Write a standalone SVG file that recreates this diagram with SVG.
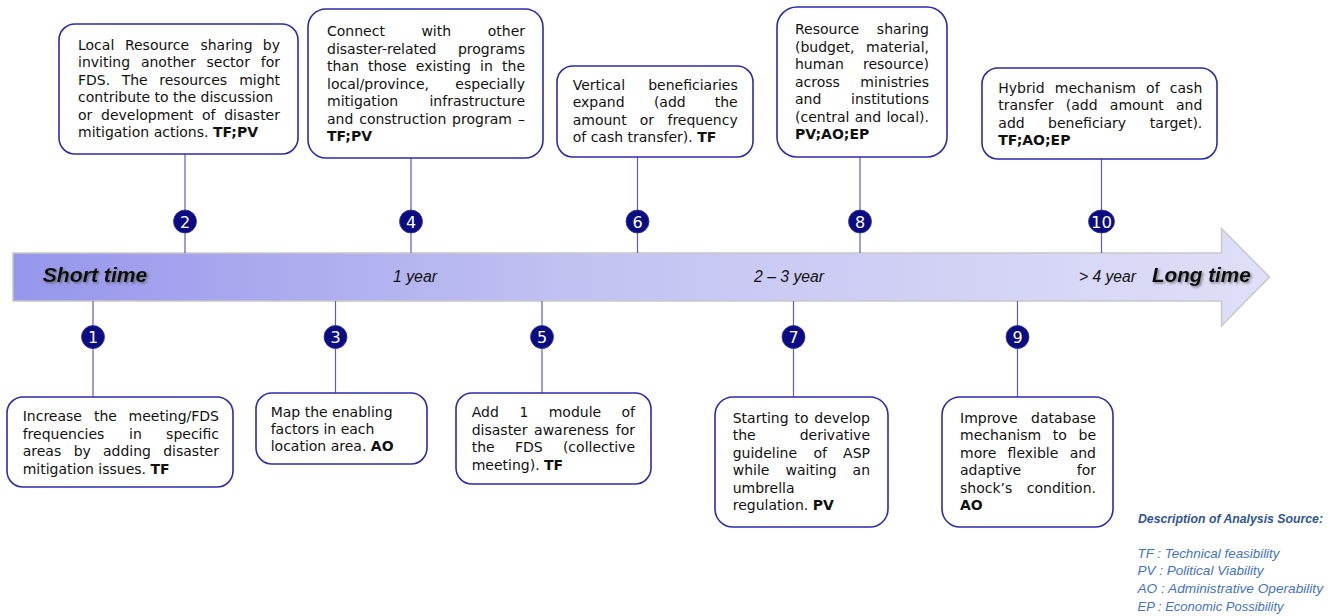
<svg xmlns="http://www.w3.org/2000/svg" width="1337" height="616" viewBox="0 0 1337 616">
  <style>
    .box { fill: #ffffff; stroke: #2b2bab; stroke-width: 1.6; }
    .t { font-family: "DejaVu Sans", sans-serif; font-size: 14px; fill: #111111; }
    .b { font-weight: bold; }
    .link { stroke: #5c5cc8; stroke-width: 1.2; fill: none; }
    .dot { fill: #0b0b82; stroke: #3a3aa0; stroke-width: 0.8; }
    .num { font-family: "DejaVu Sans", sans-serif; font-size: 16px; fill: #ffffff; text-anchor: middle; }
    .tl { font-family: "Liberation Sans", Arial, sans-serif; font-style: italic; fill: #111111; }
    .big { font-size: 21px; font-weight: bold; }
    .small { font-size: 16px; }
    .legend { font-family: "Liberation Sans", Arial, sans-serif; font-style: italic; font-size: 13px; fill: #4472c4; }
    .legend-title { font-weight: bold; fill: #2f5597; }
  </style>
  <defs>
    <linearGradient id="band" x1="12" y1="0" x2="1270" y2="0" gradientUnits="userSpaceOnUse">
      <stop offset="0" stop-color="#9696ec"/>
      <stop offset="0.45" stop-color="#c2c2f2"/>
      <stop offset="1" stop-color="#dfdff8"/>
    </linearGradient>
    <filter id="shadow" x="-10%" y="-30%" width="130%" height="170%">
      <feDropShadow dx="1.5" dy="1.5" stdDeviation="1" flood-color="#555555" flood-opacity="0.7"/>
    </filter>
  </defs>

  <!-- timeline arrow -->
  <g id="timeline">
    <path d="M13,253 H1221.5 V228.5 L1269.5,277 L1221.5,326 V301 H13 Z" fill="url(#band)" stroke="#c8c8c8" stroke-width="1.5"/>
    <text class="tl big" x="42.7" y="282" textLength="104.7" lengthAdjust="spacingAndGlyphs" filter="url(#shadow)">Short time</text>
    <text class="tl small" x="393" y="282" textLength="44" lengthAdjust="spacingAndGlyphs">1 year</text>
    <text class="tl small" x="754" y="282" textLength="70" lengthAdjust="spacingAndGlyphs">2 – 3 year</text>
    <text class="tl small" x="1079" y="282" textLength="57" lengthAdjust="spacingAndGlyphs">&gt; 4 year</text>
    <text class="tl big" x="1152" y="282" textLength="98.7" lengthAdjust="spacingAndGlyphs" filter="url(#shadow)">Long time</text>
  </g>

  <!-- connectors from the steps to the timeline -->
  <g id="connectors">
    <line class="link" x1="185" y1="154" x2="185" y2="253"/>
    <line class="link" x1="411" y1="158" x2="411" y2="253"/>
    <line class="link" x1="637.5" y1="157" x2="637.5" y2="253"/>
    <line class="link" x1="860" y1="157" x2="860" y2="253"/>
    <line class="link" x1="1101.5" y1="159" x2="1101.5" y2="253"/>
    <line class="link" x1="93" y1="301" x2="93" y2="397"/>
    <line class="link" x1="335.5" y1="301" x2="335.5" y2="393"/>
    <line class="link" x1="542" y1="301" x2="542" y2="393"/>
    <line class="link" x1="793.5" y1="301" x2="793.5" y2="397"/>
    <line class="link" x1="1017.5" y1="301" x2="1017.5" y2="397"/>
  </g>

  <!-- step 1 -->
  <g id="step1">
    <rect class="box" x="7" y="397" width="226" height="90" rx="16"/>
    <text class="t" y="421"><tspan x="22.7">Increase</tspan><tspan x="93.9">the</tspan><tspan x="219" text-anchor="end">meeting/FDS</tspan></text>
    <text class="t" y="438.5"><tspan x="22.7">frequencies</tspan><tspan x="129">in</tspan><tspan x="219" text-anchor="end">specific</tspan></text>
    <text class="t" y="456"><tspan x="22.7">areas</tspan><tspan x="73.7">by</tspan><tspan x="103">adding</tspan><tspan x="219" text-anchor="end">disaster</tspan></text>
    <text class="t" x="22.7" y="474">mitigation issues. <tspan class="b">TF</tspan></text>
    <circle class="dot" cx="93" cy="337" r="11.5"/>
    <text class="num" x="93" y="343">1</text>
  </g>

  <!-- step 2 -->
  <g id="step2">
    <rect class="box" x="59" y="24" width="239" height="130" rx="16"/>
    <text class="t" y="49.5"><tspan x="78">Local</tspan><tspan x="124.9">Resource</tspan><tspan x="200.4">sharing</tspan><tspan x="280" text-anchor="end">by</tspan></text>
    <text class="t" y="67"><tspan x="78">inviting</tspan><tspan x="140.9">another</tspan><tspan x="206.5">sector</tspan><tspan x="280" text-anchor="end">for</tspan></text>
    <text class="t" y="84.5"><tspan x="78">FDS.</tspan><tspan x="121.7">The</tspan><tspan x="159.3">resources</tspan><tspan x="280" text-anchor="end">might</tspan></text>
    <text class="t" x="78" y="102">contribute to the discussion</text>
    <text class="t" y="119.5"><tspan x="78">or</tspan><tspan x="101">development</tspan><tspan x="202">of</tspan><tspan x="280" text-anchor="end">disaster</tspan></text>
    <text class="t" x="78" y="137">mitigation actions. <tspan class="b">TF;PV</tspan></text>
    <circle class="dot" cx="185" cy="221.5" r="11.5"/>
    <text class="num" x="185" y="227.5">2</text>
  </g>

  <!-- step 3 -->
  <g id="step3">
    <rect class="box" x="256" y="393" width="171" height="71" rx="16"/>
    <text class="t" x="270.7" y="416.5">Map the enabling</text>
    <text class="t" x="270.7" y="434">factors in each</text>
    <text class="t" x="270.7" y="451">location area. <tspan class="b">AO</tspan></text>
    <circle class="dot" cx="335.5" cy="337" r="11.5"/>
    <text class="num" x="335.5" y="343">3</text>
  </g>

  <!-- step 4 -->
  <g id="step4">
    <rect class="box" x="308" y="9" width="235" height="149" rx="18"/>
    <text class="t" y="36"><tspan x="327">Connect</tspan><tspan x="421.4">with</tspan><tspan x="525" text-anchor="end">other</tspan></text>
    <text class="t" y="53.5"><tspan x="327">disaster-related</tspan><tspan x="525" text-anchor="end">programs</tspan></text>
    <text class="t" y="71"><tspan x="327">than</tspan><tspan x="367.9">those</tspan><tspan x="415.8">existing</tspan><tspan x="480.1">in</tspan><tspan x="525" text-anchor="end">the</tspan></text>
    <text class="t" y="88.5"><tspan x="327">local/province,</tspan><tspan x="525" text-anchor="end">especially</tspan></text>
    <text class="t" y="106"><tspan x="327">mitigation</tspan><tspan x="525" text-anchor="end">infrastructure</tspan></text>
    <text class="t" y="123.5"><tspan x="327">and</tspan><tspan x="359.2">construction</tspan><tspan x="452.1">program</tspan><tspan x="525" text-anchor="end">–</tspan></text>
    <text class="t b" x="327" y="141">TF;PV</text>
    <circle class="dot" cx="411" cy="221.5" r="11.5"/>
    <text class="num" x="411" y="227.5">4</text>
  </g>

  <!-- step 5 -->
  <g id="step5">
    <rect class="box" x="456" y="393" width="195" height="91" rx="16"/>
    <text class="t" y="417"><tspan x="471.7">Add</tspan><tspan x="519.4">1</tspan><tspan x="548.7">module</tspan><tspan x="635" text-anchor="end">of</tspan></text>
    <text class="t" y="434.5"><tspan x="471.7">disaster</tspan><tspan x="534.1">awareness</tspan><tspan x="635" text-anchor="end">for</tspan></text>
    <text class="t" y="452"><tspan x="471.7">the</tspan><tspan x="514.9">FDS</tspan><tspan x="635" text-anchor="end">(collective</tspan></text>
    <text class="t" x="471.7" y="469.5">meeting). <tspan class="b">TF</tspan></text>
    <circle class="dot" cx="542" cy="337" r="11.5"/>
    <text class="num" x="542" y="343">5</text>
  </g>

  <!-- step 6 -->
  <g id="step6">
    <rect class="box" x="557" y="66" width="196" height="91" rx="16"/>
    <text class="t" y="89.5"><tspan x="572.7">Vertical</tspan><tspan x="737.7" text-anchor="end">beneficiaries</tspan></text>
    <text class="t" y="107"><tspan x="572.7">expand</tspan><tspan x="653.9">(add</tspan><tspan x="737.7" text-anchor="end">the</tspan></text>
    <text class="t" y="124.5"><tspan x="572.7">amount</tspan><tspan x="639.8">or</tspan><tspan x="737.7" text-anchor="end">frequency</tspan></text>
    <text class="t" x="572.7" y="142">of cash transfer). <tspan class="b">TF</tspan></text>
    <circle class="dot" cx="637.5" cy="221.5" r="11.5"/>
    <text class="num" x="637.5" y="227.5">6</text>
  </g>

  <!-- step 7 -->
  <g id="step7">
    <rect class="box" x="715" y="397" width="173" height="130" rx="18"/>
    <text class="t" y="422.5"><tspan x="732.7">Starting</tspan><tspan x="794.4">to</tspan><tspan x="870" text-anchor="end">develop</tspan></text>
    <text class="t" y="440"><tspan x="732.7">the</tspan><tspan x="870" text-anchor="end">derivative</tspan></text>
    <text class="t" y="457.5"><tspan x="732.7">guideline</tspan><tspan x="813.4">of</tspan><tspan x="870" text-anchor="end">ASP</tspan></text>
    <text class="t" y="475"><tspan x="732.7">while</tspan><tspan x="785.5">waiting</tspan><tspan x="870" text-anchor="end">an</tspan></text>
    <text class="t" x="732.7" y="492.5">umbrella</text>
    <text class="t" x="732.7" y="510">regulation. <tspan class="b">PV</tspan></text>
    <circle class="dot" cx="793.5" cy="337" r="11.5"/>
    <text class="num" x="793.5" y="343">7</text>
  </g>

  <!-- step 8 -->
  <g id="step8">
    <rect class="box" x="777" y="7" width="170" height="150" rx="20"/>
    <text class="t" y="34"><tspan x="795">Resource</tspan><tspan x="929" text-anchor="end">sharing</tspan></text>
    <text class="t" y="51.5"><tspan x="795">(budget,</tspan><tspan x="929" text-anchor="end">material,</tspan></text>
    <text class="t" y="69"><tspan x="795">human</tspan><tspan x="929" text-anchor="end">resource)</tspan></text>
    <text class="t" y="86.5"><tspan x="795">across</tspan><tspan x="929" text-anchor="end">ministries</tspan></text>
    <text class="t" y="104"><tspan x="795">and</tspan><tspan x="929" text-anchor="end">institutions</tspan></text>
    <text class="t" y="121.5"><tspan x="795">(central</tspan><tspan x="854.7">and</tspan><tspan x="929" text-anchor="end">local).</tspan></text>
    <text class="t b" x="795" y="139">PV;AO;EP</text>
    <circle class="dot" cx="860" cy="221.5" r="11.5"/>
    <text class="num" x="860" y="227.5">8</text>
  </g>

  <!-- step 9 -->
  <g id="step9">
    <rect class="box" x="942" y="397" width="171" height="130" rx="18"/>
    <text class="t" y="422.5"><tspan x="960">Improve</tspan><tspan x="1096" text-anchor="end">database</tspan></text>
    <text class="t" y="440"><tspan x="960">mechanism</tspan><tspan x="1052.8">to</tspan><tspan x="1096" text-anchor="end">be</tspan></text>
    <text class="t" y="457.5"><tspan x="960">more</tspan><tspan x="1007.6">flexible</tspan><tspan x="1096" text-anchor="end">and</tspan></text>
    <text class="t" y="475"><tspan x="960">adaptive</tspan><tspan x="1096" text-anchor="end">for</tspan></text>
    <text class="t" y="492.5"><tspan x="960">shock’s</tspan><tspan x="1096" text-anchor="end">condition.</tspan></text>
    <text class="t b" x="960" y="510">AO</text>
    <circle class="dot" cx="1017.5" cy="337" r="11.5"/>
    <text class="num" x="1017.5" y="343">9</text>
  </g>

  <!-- step 10 -->
  <g id="step10">
    <rect class="box" x="982" y="68" width="235" height="91" rx="16"/>
    <text class="t" y="92.5"><tspan x="998.3">Hybrid</tspan><tspan x="1054.8">mechanism</tspan><tspan x="1146.1">of</tspan><tspan x="1202.3" text-anchor="end">cash</tspan></text>
    <text class="t" y="110"><tspan x="998.3">transfer</tspan><tspan x="1065.8">(add</tspan><tspan x="1109.8">amount</tspan><tspan x="1202.3" text-anchor="end">and</tspan></text>
    <text class="t" y="127.5"><tspan x="998.3">add</tspan><tspan x="1048.1">beneficiary</tspan><tspan x="1202.3" text-anchor="end">target).</tspan></text>
    <text class="t b" x="998.3" y="145">TF;AO;EP</text>
    <ellipse class="dot" cx="1101.5" cy="221.5" rx="13" ry="11.5"/>
    <text class="num" x="1101.5" y="227.5" textLength="21" lengthAdjust="spacingAndGlyphs">10</text>
  </g>

  <!-- legend -->
  <g id="legend">
    <text class="legend legend-title" x="1138" y="522.5" textLength="185" lengthAdjust="spacingAndGlyphs">Description of Analysis Source:</text>
    <text class="legend" x="1137.5" y="557.5" textLength="142" lengthAdjust="spacingAndGlyphs">TF : Technical feasibility</text>
    <text class="legend" x="1137.5" y="575.2" textLength="126" lengthAdjust="spacingAndGlyphs">PV : Political Viability</text>
    <text class="legend" x="1137.5" y="592.9" textLength="185.5" lengthAdjust="spacingAndGlyphs">AO : Administrative Operability</text>
    <text class="legend" x="1137.5" y="610.6" textLength="146" lengthAdjust="spacingAndGlyphs">EP : Economic Possibility</text>
  </g>
</svg>
